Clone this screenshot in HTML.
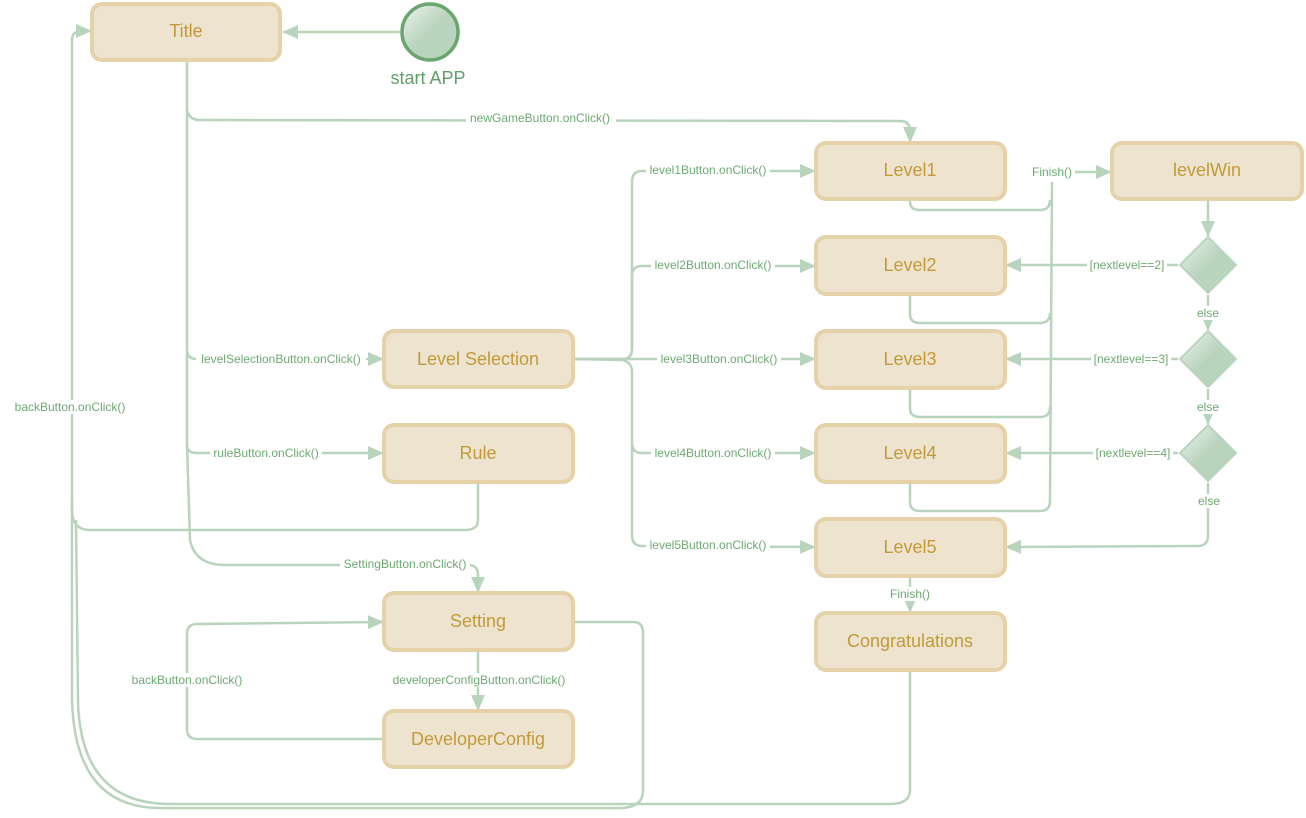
<!DOCTYPE html>
<html><head><meta charset="utf-8"><style>
html,body{margin:0;padding:0;background:#fff;}
svg{display:block;}
.b{fill:#ede3cf;stroke:#e6d2a8;stroke-width:4;}
.t{font-family:"Liberation Sans",sans-serif;font-size:18px;fill:#c29a3a;text-anchor:middle;dominant-baseline:central;}
.l{font-family:"Liberation Sans",sans-serif;font-size:12px;fill:#6daa72;text-anchor:middle;dominant-baseline:central;}
.e{fill:none;stroke:#b9d4bd;stroke-width:2.5;}
.lb{fill:#fff;}
</style></head><body>
<svg width="1306" height="818" viewBox="0 0 1306 818" xmlns="http://www.w3.org/2000/svg">
<defs>
<marker id="a" markerWidth="16" markerHeight="14" refX="15" refY="7" orient="auto" markerUnits="userSpaceOnUse"><path d="M0,0 L16,7 L0,14z" fill="#b9d4bd"/></marker>
<linearGradient id="g" x1="0" y1="0" x2="1" y2="1"><stop offset="0" stop-color="#eef3ee"/><stop offset="0.5" stop-color="#b9d4bd"/></linearGradient>
</defs>
<g class="e">
<path d="M400,32 L283,32" marker-end="url(#a)"/>
<path d="M187,60 L187,110 Q189,120 200,120 L900,121 Q910,121 910,131 L910,142" marker-end="url(#a)"/>
<path d="M187,110 L187,350 Q187,359 197,359 L383,359" marker-end="url(#a)"/>
<path d="M187,350 L187,445 Q187,453 197,453 L383,453" marker-end="url(#a)"/>
<path d="M187,445 L190,540 Q195,565 225,565 L468,565 Q478,565 478,575 L478,592" marker-end="url(#a)"/>
<path d="M478,482 L478,520 Q478,530 465,530 L90,530 Q72,530 72,510 L72,40 Q72,31 82,31 L91,31" marker-end="url(#a)"/>
<path d="M573,622 L633,622 Q643,622 643,632 L643,790 Q643,808 620,808 L160,808 Q75,808 72,700 L72,500"/>
<path d="M910,670 L910,790 Q910,804 890,804 L170,804 Q80,804 78,700 L76,520"/>
<path d="M384,739 L197,739 Q187,739 187,729 L187,634 Q187,624 197,624 L383,622" marker-end="url(#a)"/>
<path d="M478,650 L478,710" marker-end="url(#a)"/>
<path d="M573,359 L622,359 Q632,359 632,349 L632,182 Q632,171 642,171 L815,171" marker-end="url(#a)"/>
<path d="M632,349 L632,276 Q632,266 642,266 L815,266" marker-end="url(#a)"/>
<path d="M573,359 L815,359" marker-end="url(#a)"/>
<path d="M573,359 L622,360 Q632,362 632,372 L632,443 Q632,453 642,453 L815,453" marker-end="url(#a)"/>
<path d="M632,443 L632,535 Q632,546 642,546 L815,547" marker-end="url(#a)"/>
<path d="M910,199 L910,202 Q910,210 920,210 L1040,210 Q1050,210 1050,200"/>
<path d="M910,294 L910,314 Q910,323 920,323 L1040,323 Q1050,323 1050,313"/>
<path d="M910,388 L910,408 Q910,417 920,417 L1040,417 Q1050,417 1050,407"/>
<path d="M910,482 L910,502 Q910,511 920,511 L1040,511 Q1050,511 1050,501"/>
<path d="M1050,501 L1052,182"/>
<path d="M1075,172 L1111,172" marker-end="url(#a)"/>
<path d="M1208,199 L1208,236" marker-end="url(#a)"/>
<path d="M1178,265 L1006,265" marker-end="url(#a)"/>
<path d="M1178,359 L1006,359" marker-end="url(#a)"/>
<path d="M1178,453 L1006,453" marker-end="url(#a)"/>
<path d="M1208,295 L1208,330" marker-end="url(#a)"/>
<path d="M1208,389 L1208,424" marker-end="url(#a)"/>
<path d="M1208,483 L1208,535 Q1208,546 1198,546 L1006,547" marker-end="url(#a)"/>
<path d="M910,576 L910,612" marker-end="url(#a)"/>
</g>
<rect class="b" x="92" y="4" width="188" height="56" rx="10"/><text class="t" x="186" y="31">Title</text>
<circle cx="430" cy="32" r="28" fill="url(#g)" stroke="#6aa56e" stroke-width="3.5"/>
<text class="t" x="428" y="78" style="fill:#5f9e66">start APP</text>
<rect class="b" x="384" y="331" width="189" height="56" rx="10"/><text class="t" x="478" y="359">Level Selection</text>
<rect class="b" x="384" y="425" width="189" height="57" rx="10"/><text class="t" x="478" y="453">Rule</text>
<rect class="b" x="384" y="593" width="189" height="57" rx="10"/><text class="t" x="478" y="621">Setting</text>
<rect class="b" x="384" y="711" width="189" height="56" rx="10"/><text class="t" x="478" y="739">DeveloperConfig</text>
<rect class="b" x="816" y="143" width="189" height="56" rx="10"/><text class="t" x="910" y="170">Level1</text>
<rect class="b" x="816" y="237" width="189" height="57" rx="10"/><text class="t" x="910" y="265">Level2</text>
<rect class="b" x="816" y="331" width="189" height="57" rx="10"/><text class="t" x="910" y="359">Level3</text>
<rect class="b" x="816" y="425" width="189" height="57" rx="10"/><text class="t" x="910" y="453">Level4</text>
<rect class="b" x="816" y="519" width="189" height="57" rx="10"/><text class="t" x="910" y="547">Level5</text>
<rect class="b" x="816" y="613" width="189" height="57" rx="10"/><text class="t" x="910" y="641">Congratulations</text>
<rect class="b" x="1112" y="143" width="190" height="56" rx="10"/><text class="t" x="1207" y="170">levelWin</text>
<path d="M1208,237 L1236,265 L1208,293 L1180,265z" fill="url(#g)" stroke="#b9d4bd" stroke-width="2"/>
<path d="M1208,331 L1236,359 L1208,387 L1180,359z" fill="url(#g)" stroke="#b9d4bd" stroke-width="2"/>
<path d="M1208,425 L1236,453 L1208,481 L1180,453z" fill="url(#g)" stroke="#b9d4bd" stroke-width="2"/>
<g>
<rect class="lb" x="466" y="111" width="150" height="14"/><text class="l" x="540" y="118">newGameButton.onClick()</text>
<rect class="lb" x="196" y="352" width="170" height="14"/><text class="l" x="281" y="359">levelSelectionButton.onClick()</text>
<rect class="lb" x="210" y="446" width="112" height="14"/><text class="l" x="266" y="453">ruleButton.onClick()</text>
<rect class="lb" x="340" y="557" width="130" height="14"/><text class="l" x="405" y="564">SettingButton.onClick()</text>
<rect class="lb" x="11" y="400" width="118" height="14"/><text class="l" x="70" y="407">backButton.onClick()</text>
<rect class="lb" x="129" y="673" width="118" height="14"/><text class="l" x="187" y="680">backButton.onClick()</text>
<rect class="lb" x="386" y="673" width="186" height="14"/><text class="l" x="479" y="680">developerConfigButton.onClick()</text>
<rect class="lb" x="646" y="163" width="124" height="14"/><text class="l" x="708" y="170">level1Button.onClick()</text>
<rect class="lb" x="651" y="258" width="124" height="14"/><text class="l" x="713" y="265">level2Button.onClick()</text>
<rect class="lb" x="657" y="352" width="124" height="14"/><text class="l" x="719" y="359">level3Button.onClick()</text>
<rect class="lb" x="651" y="446" width="124" height="14"/><text class="l" x="713" y="453">level4Button.onClick()</text>
<rect class="lb" x="646" y="538" width="124" height="14"/><text class="l" x="708" y="545">level5Button.onClick()</text>
<rect class="lb" x="1030" y="165" width="44" height="14"/><text class="l" x="1052" y="172">Finish()</text>
<rect class="lb" x="888" y="587" width="44" height="14"/><text class="l" x="910" y="594">Finish()</text>
<rect class="lb" x="1087" y="258" width="80" height="14"/><text class="l" x="1127" y="265">[nextlevel==2]</text>
<rect class="lb" x="1091" y="352" width="80" height="14"/><text class="l" x="1131" y="359">[nextlevel==3]</text>
<rect class="lb" x="1093" y="446" width="80" height="14"/><text class="l" x="1133" y="453">[nextlevel==4]</text>
<rect class="lb" x="1196" y="306" width="24" height="14"/><text class="l" x="1208" y="313">else</text>
<rect class="lb" x="1196" y="400" width="24" height="14"/><text class="l" x="1208" y="407">else</text>
<rect class="lb" x="1197" y="494" width="24" height="14"/><text class="l" x="1209" y="501">else</text>
</g>
</svg>
</body></html>
